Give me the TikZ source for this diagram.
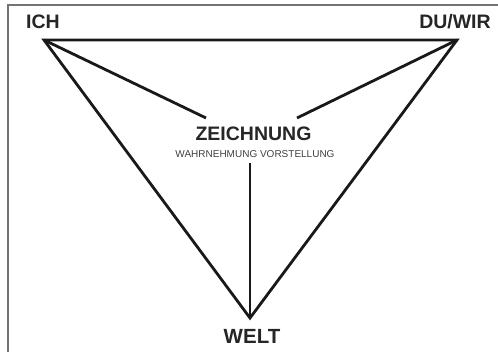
\documentclass[tikz,border=0pt]{standalone}
\usepackage{fontspec}
\setmainfont{Liberation Sans}
\begin{document}
\begin{tikzpicture}[x=1pt,y=1pt,
  lbl/.style={font=\fontsize{19.5}{20}\selectfont\bfseries, text=black!85, inner sep=0pt, anchor=base},
  sublbl/.style={font=\fontsize{10}{11}\selectfont, text=black!75, inner sep=0pt, anchor=base},
  edge/.style={line width=2.8pt, black!90, line join=miter}]
\useasboundingbox (0,0) rectangle (498,352);
\draw[black!55, line width=1.3pt] (8,0) -- (8,347) -- (498,347);
\coordinate (ich) at (44,312);
\coordinate (du) at (457,312);
\coordinate (welt) at (250,34);
\coordinate (zl) at (206,234);
\coordinate (zr) at (297,234);
\coordinate (zb) at (250,189);
\node[lbl] (ichlbl) at (43,323) {ICH};
\node[lbl] (dulbl) at (455,323) {DU/WIR};
\node[lbl] (zlbl) at (253.5,211) {ZEICHNUNG};
\node[sublbl] (sub) at (255,194) {WAHRNEHMUNG VORSTELLUNG};
\node[lbl, font=\fontsize{20.5}{21}\selectfont\bfseries] (weltlbl) at (252,8) {WELT};
\draw[edge] (ich) -- (du) -- (welt) -- cycle;
\draw[edge] (ich) -- (zl);
\draw[edge] (du) -- (zr);
\draw[edge] (zb) -- (welt);
\end{tikzpicture}
\end{document}
